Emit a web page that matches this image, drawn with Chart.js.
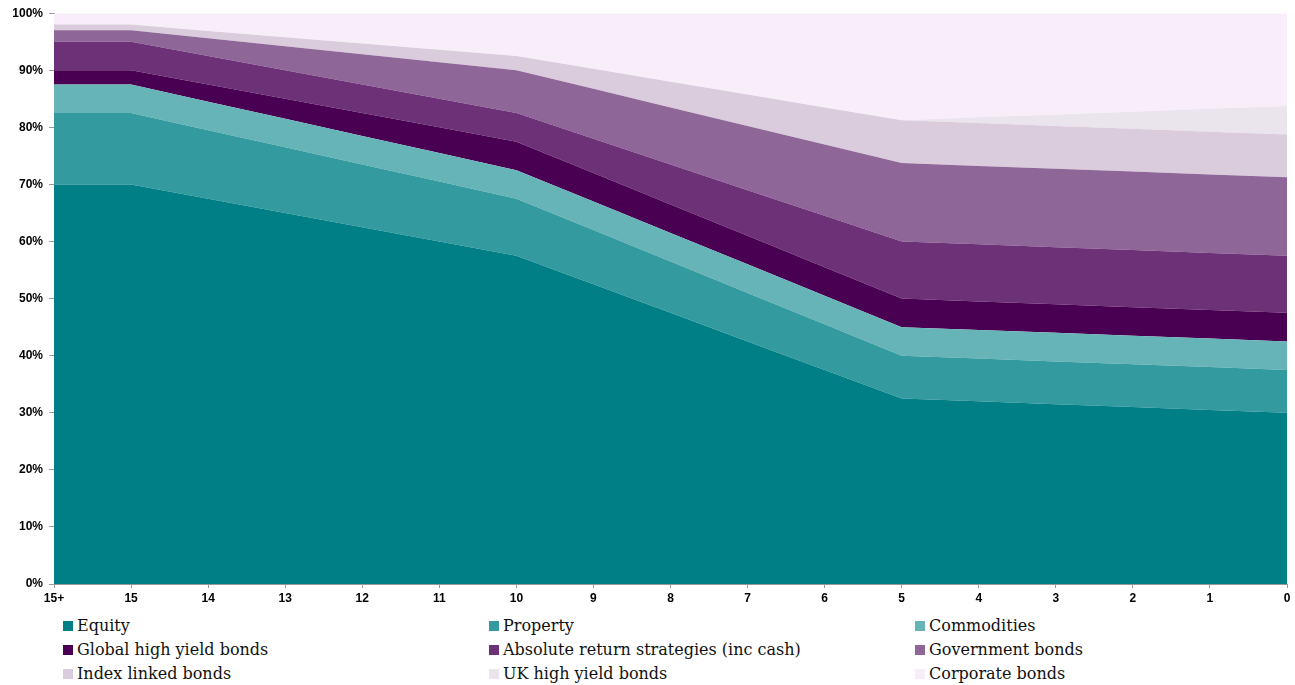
<!DOCTYPE html>
<html>
<head>
<meta charset="utf-8">
<script src="https://cdn.jsdelivr.net/npm/chart.js@4.4.1/dist/chart.umd.min.js"></script>
<style>
    body { margin: 0; background: #fff; width: 1295px; height: 685px; overflow: hidden; }
    #wrap { position: relative; width: 1295px; height: 612px; }
    #legend {
        display: grid;
        grid-template-columns: 426px 426px 300px;
        margin-left: 63px;
        margin-top: 2px;
        font-family: "DejaVu Serif", serif;
        font-size: 16px;
        color: #111;
    }
    #legend div { height: 24px; line-height: 24px; white-space: nowrap; }
    #legend span.box { display: inline-block; width: 10px; height: 10px; margin-right: 4px; vertical-align: 0px; }
</style>
</head>
<body>
<div id="wrap"><canvas id="glideChart"></canvas></div>
<div id="legend"></div>
<script>
const years = ["15+", "15", "14", "13", "12", "11", "10", "9", "8", "7", "6", "5", "4", "3", "2", "1", "0"];

const equity       = [70, 70, 67.5, 65, 62.5, 60, 57.5, 52.5, 47.5, 42.5, 37.5, 32.5, 32, 31.5, 31, 30.5, 30];
const property     = [12.5, 12.5, 12, 11.5, 11, 10.5, 10, 9.5, 9, 8.5, 8, 7.5, 7.5, 7.5, 7.5, 7.5, 7.5];
const commodities  = [5, 5, 5, 5, 5, 5, 5, 5, 5, 5, 5, 5, 5, 5, 5, 5, 5];
const globalHY     = [2.5, 2.5, 3, 3.5, 4, 4.5, 5, 5, 5, 5, 5, 5, 5, 5, 5, 5, 5];
const absReturn    = [5, 5, 5, 5, 5, 5, 5, 6, 7, 8, 9, 10, 10, 10, 10, 10, 10];
const govBonds     = [2, 2, 3.1, 4.2, 5.3, 6.4, 7.5, 8.75, 10, 11.25, 12.5, 13.75, 13.75, 13.75, 13.75, 13.75, 13.75];
const indexLinked  = [1, 1, 1.3, 1.6, 1.9, 2.2, 2.5, 3.5, 4.5, 5.5, 6.5, 7.5, 7.5, 7.5, 7.5, 7.5, 7.5];
const ukHY         = [0, 0, 0, 0, 0, 0, 0, 0, 0, 0, 0, 0, 1, 2, 3, 4, 5];
const corporate    = [2, 2, 3.1, 4.2, 5.3, 6.4, 7.5, 9.75, 12, 14.25, 16.5, 18.75, 18.25, 17.75, 17.25, 16.75, 16.25];

const yTicks = [0, 10, 20, 30, 40, 50, 60, 70, 80, 90, 100];

const series = [
    ["Equity", equity, "#007F86"],
    ["Property", property, "#339A9F"],
    ["Commodities", commodities, "#66B4B7"],
    ["Global high yield bonds", globalHY, "#4A0052"],
    ["Absolute return strategies (inc cash)", absReturn, "#6C3176"],
    ["Government bonds", govBonds, "#8F6698"],
    ["Index linked bonds", indexLinked, "#DACCDD"],
    ["UK high yield bonds", ukHY, "#EAE4EC"],
    ["Corporate bonds", corporate, "#F7EEF9"],
];

const datasets = series.map(([label, data, color], i) => ({
    label: label,
    data: data,
    backgroundColor: color,
    borderWidth: 0,
    pointRadius: 0,
    tension: 0,
    fill: i === 0 ? "origin" : "-1",
}));

const tickFont = { family: "'Liberation Sans', Arial, sans-serif", size: 12, weight: "bold" };

new Chart(document.getElementById("glideChart"), {
    type: "line",
    data: { labels: years, datasets: datasets },
    options: {
        responsive: true,
        maintainAspectRatio: false,
        animation: false,
        layout: { padding: { top: 11, right: 8, left: 0, bottom: 0 } },
        plugins: { legend: { display: false }, tooltip: { enabled: false } },
        scales: {
            x: {
                offset: false,
                grid: { drawOnChartArea: false, color: "#999", tickLength: 4 },
                border: { color: "#999" },
                ticks: { color: "#000", padding: 3, maxRotation: 0, autoSkip: false, font: tickFont },
                afterFit: (s) => { s.height = 28; },
            },
            y: {
                stacked: true,
                min: 0,
                max: 100,
                afterBuildTicks: (s) => { s.ticks = yTicks.map((v) => ({ value: v })); },
                grid: { drawOnChartArea: false, color: "#999", tickLength: 5 },
                border: { color: "#999" },
                ticks: { color: "#000", padding: 6, callback: (v) => v + "%", font: tickFont },
                afterFit: (s) => { s.width = 54; },
            },
        },
    },
});

const legendEl = document.getElementById("legend");
series.forEach(([label, , color]) => {
    const item = document.createElement("div");
    item.innerHTML = '<span class="box" style="background:' + color + '"></span>' + label;
    legendEl.appendChild(item);
});
</script>
</body>
</html>
